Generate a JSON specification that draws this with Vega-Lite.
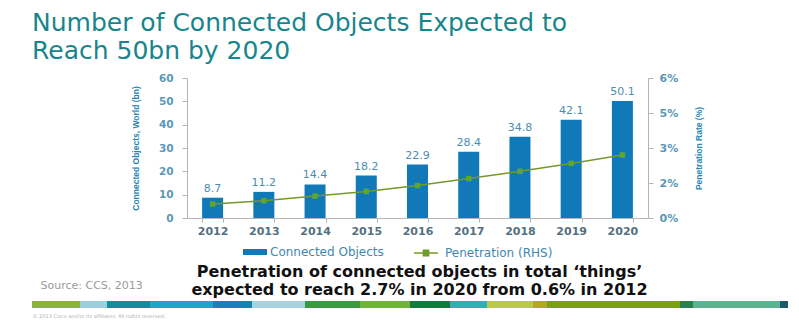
{
  "$schema": "https://vega.github.io/schema/vega-lite/v6.json",
  "background": "white",
  "padding": {"left": 32, "top": 11, "right": 5, "bottom": 0},
  "config": {"view": {"stroke": null}, "font": "DejaVu Sans"},
  "spacing": 28,
  "datasets": {
    "main": [
      {"year": "2012", "objects": 8.7, "pen": 0.006},
      {"year": "2013", "objects": 11.2, "pen": 0.0074},
      {"year": "2014", "objects": 14.4, "pen": 0.0094},
      {"year": "2015", "objects": 18.2, "pen": 0.0114},
      {"year": "2016", "objects": 22.9, "pen": 0.0139},
      {"year": "2017", "objects": 28.4, "pen": 0.0169},
      {"year": "2018", "objects": 34.8, "pen": 0.020},
      {"year": "2019", "objects": 42.1, "pen": 0.0234},
      {"year": "2020", "objects": 50.1, "pen": 0.027}
    ],
    "stripe": [
      {"i": 1, "seg": "s01", "len": 48, "band": "a"},
      {"i": 2, "seg": "s02", "len": 27, "band": "a"},
      {"i": 3, "seg": "s03", "len": 43, "band": "a"},
      {"i": 4, "seg": "s04", "len": 63, "band": "a"},
      {"i": 5, "seg": "s05", "len": 39, "band": "a"},
      {"i": 6, "seg": "s06", "len": 53, "band": "a"},
      {"i": 7, "seg": "s07", "len": 55, "band": "a"},
      {"i": 8, "seg": "s08", "len": 50, "band": "a"},
      {"i": 9, "seg": "s09", "len": 40, "band": "a"},
      {"i": 10, "seg": "s10", "len": 37, "band": "a"},
      {"i": 11, "seg": "s11", "len": 46, "band": "a"},
      {"i": 12, "seg": "s12", "len": 14, "band": "a"},
      {"i": 13, "seg": "s13", "len": 133, "band": "a"},
      {"i": 14, "seg": "s14", "len": 13, "band": "a"},
      {"i": 15, "seg": "s15", "len": 87, "band": "a"},
      {"i": 16, "seg": "s16", "len": 8, "band": "a"}
    ]
  },
  "vconcat": [
    {
      "title": {
        "text": ["Number of Connected Objects Expected to", "Reach 50bn by 2020"],
        "anchor": "start",
        "frame": "group",
        "dx": -155,
        "font": "DejaVu Sans",
        "fontSize": 25,
        "fontWeight": "normal",
        "lineHeight": 28,
        "color": "#17868c",
        "offset": 8
      },
      "width": 461,
      "height": 140,
      "data": {"name": "main"},
      "encoding": {
        "x": {
          "field": "year",
          "type": "ordinal",
          "scale": {"paddingInner": 0.59, "paddingOuter": 0.295},
          "axis": {
            "title": null,
            "labelAngle": 0,
            "labelFont": "DejaVu Sans",
            "labelFontSize": 11,
            "labelFontWeight": "bold",
            "labelColor": "#56707f",
            "labelPadding": 3,
            "tickBand": "extent",
            "tickSize": 4,
            "tickColor": "#b5b5b5",
            "domainColor": "#b5b5b5"
          }
        }
      },
      "layer": [
        {
          "encoding": {
            "y": {
              "field": "objects",
              "type": "quantitative",
              "scale": {"domain": [0, 60], "nice": false},
              "axis": {
                "title": "Connected Objects, World (bn)",
                "titleFont": "Liberation Sans",
                "titleFontSize": 8.5,
                "titleFontWeight": "bold",
                "titleColor": "#2686b3",
                "titlePadding": 18,
                "values": [0, 10, 20, 30, 40, 50, 60],
                "grid": false,
                "labelFont": "DejaVu Sans",
                "labelFontSize": 10.5,
                "labelFontWeight": "bold",
                "labelColor": "#5b97b8",
                "labelPadding": 9,
                "tickSize": 5,
                "tickColor": "#b5b5b5",
                "domainColor": "#b5b5b5"
              }
            }
          },
          "layer": [
            {
              "mark": {"type": "bar", "color": "#1279b9"},
              "encoding": {
                "fill": {
                  "datum": "Connected Objects",
                  "scale": {"range": ["#1279b9"]},
                  "legend": {
                    "orient": "none",
                    "legendX": 56,
                    "legendY": 162,
                    "title": null,
                    "padding": 0,
                    "symbolType": "M-1,-0.25H1V0.25H-1Z",
                    "symbolSize": 576,
                    "symbolStrokeWidth": 0,
                    "labelFont": "DejaVu Sans",
                    "labelFontSize": 12,
                    "labelColor": "#3d88ad",
                    "labelOffset": 3
                  }
                }
              }
            },
            {
              "mark": {"type": "text", "baseline": "bottom", "dy": -4, "fontSize": 11, "font": "DejaVu Sans", "color": "#4a8db0"},
              "encoding": {
                "text": {"field": "objects", "type": "quantitative", "format": ".1f"}
              }
            }
          ]
        },
        {
          "encoding": {
            "y": {
              "field": "pen",
              "type": "quantitative",
              "scale": {"domain": [0, 0.06], "nice": false},
              "axis": {
                "orient": "right",
                "title": "Penetration Rate (%)",
                "titleAngle": 270,
                "titleFont": "Liberation Sans",
                "titleFontSize": 8.5,
                "titleFontWeight": "bold",
                "titleColor": "#2686b3",
                "titlePadding": 26,
                "values": [0, 0.015, 0.03, 0.045, 0.06],
                "labelExpr": "datum.value == 0 ? '0%' : datum.value < 0.02 ? '2%' : datum.value < 0.04 ? '3%' : datum.value < 0.05 ? '5%' : '6%'",
                "grid": false,
                "labelFont": "DejaVu Sans",
                "labelFontSize": 11,
                "labelFontWeight": "bold",
                "labelColor": "#5b97b8",
                "labelPadding": 6,
                "tickSize": 5,
                "tickColor": "#b5b5b5",
                "domainColor": "#b5b5b5"
              }
            }
          },
          "layer": [
            {
              "mark": {"type": "line", "strokeWidth": 1.5},
              "encoding": {
                "stroke": {
                  "datum": "Penetration (RHS)",
                  "scale": {"range": ["#76982a"]},
                  "legend": {
                    "orient": "none",
                    "legendX": 226,
                    "legendY": 162,
                    "title": null,
                    "padding": 0,
                    "symbolType": "M-1,0H1M-0.22,-0.22H0.22V0.22H-0.22Z",
                    "symbolSize": 576,
                    "symbolStrokeWidth": 1.5,
                    "symbolFillColor": "#5aa832",
                    "labelFont": "DejaVu Sans",
                    "labelFontSize": 12,
                    "labelColor": "#3d88ad",
                    "labelOffset": 6,
                    "encode": {"symbols": {"update": {"fill": {"value": "#5aa832"}}}}
                  }
                }
              }
            },
            {
              "mark": {"type": "point", "shape": "square", "filled": true, "size": 30, "color": "#5aa832", "opacity": 1}
            }
          ]
        }
      ],
      "resolve": {"scale": {"y": "independent"}}
    },
    {
      "width": 601,
      "height": 7,
      "data": {"name": "stripe"},
      "title": {
        "text": ["Penetration of connected objects in total ‘things’", "expected to reach 2.7% in 2020 from 0.6% in 2012"],
        "anchor": "middle",
        "frame": "group",
        "dx": -68,
        "font": "DejaVu Sans",
        "fontSize": 16,
        "fontWeight": "bold",
        "color": "#111111",
        "lineHeight": 18,
        "offset": -19
      },
      "mark": {"type": "bar", "clip": false},
      "encoding": {
        "x": {
          "field": "len",
          "type": "quantitative",
          "stack": "zero",
          "scale": {"domain": [155, 756], "nice": false, "zero": false},
          "axis": {
            "title": "© 2013 Cisco and/or its affiliates. All rights reserved.",
            "labels": false,
            "ticks": false,
            "domain": false,
            "grid": false,
            "titleFont": "DejaVu Sans",
            "titleFontSize": 5,
            "titleFontWeight": "normal",
            "titleColor": "#b0b0b0",
            "titleAnchor": "start",
            "titleAlign": "left",
            "titleX": -155,
            "titlePadding": 5
          }
        },
        "y": {
          "field": "band",
          "type": "nominal",
          "scale": {"paddingInner": 0, "paddingOuter": 0},
          "axis": {
            "title": "Source: CCS, 2013",
            "titleAngle": 0,
            "titleAlign": "left",
            "titleBaseline": "alphabetic",
            "titleX": -147,
            "titleY": -13,
            "labels": false,
            "ticks": false,
            "domain": false,
            "titleFont": "DejaVu Sans",
            "titleFontSize": 11,
            "titleFontWeight": "normal",
            "titleColor": "#9a9a9a"
          }
        },
        "color": {
          "field": "seg",
          "type": "nominal",
          "scale": {
            "domain": ["s01", "s02", "s03", "s04", "s05", "s06", "s07", "s08", "s09", "s10", "s11", "s12", "s13", "s14", "s15", "s16"],
            "range": ["#8cb43c", "#9ccfdd", "#168b9e", "#1ea6c9", "#1b80b3", "#a6d3df", "#3a9b3e", "#6cb43b", "#14793d", "#2fb0b5", "#b9c94a", "#b4a820", "#7aa114", "#2b8050", "#5db38f", "#1b5b6b"]
          },
          "legend": null
        },
        "order": {"field": "i", "type": "quantitative"}
      }
    }
  ]
}
